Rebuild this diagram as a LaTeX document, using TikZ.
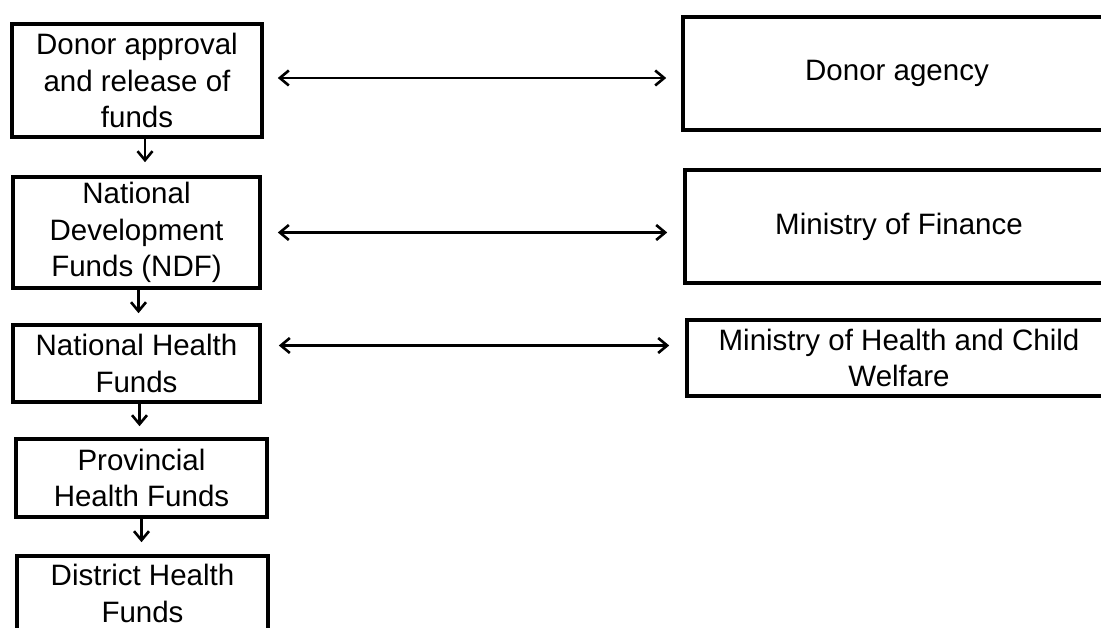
\documentclass[tikz,border=0pt]{standalone}
\usepackage{fontspec}
\setmainfont{Liberation Sans}
\usetikzlibrary{arrows.meta}
\begin{document}
\begin{tikzpicture}[x=1pt,y=-1pt,
  fund/.style={draw, line width=3.6pt, align=center, inner sep=0pt,
    font=\fontsize{29.5}{36.5}\selectfont},
  link/.style={line width=2.6pt, {Straight Barb[length=9pt,width=15pt]}-{Straight Barb[length=9pt,width=15pt]}},
  flow/.style={line width=2.6pt, -{Straight Barb[length=9pt,width=15pt]}}]
\useasboundingbox (0,0) rectangle (1101,628);

% funding chain on the left
\node[fund, minimum width=250pt, minimum height=113pt] (b1) at (137,80.5)
  {Donor approval\\and release of\\funds};
\node[fund, minimum width=247pt, minimum height=111pt] (b2) at (136.5,232.5)
  {National\\Development\\Funds (NDF)};
\node[fund, minimum width=247pt, minimum height=77pt] (b3) at (136.5,363.5)
  {National Health\\Funds};
\node[fund, minimum width=251pt, minimum height=78pt] (b4) at (141.5,478)
  {Provincial\\Health Funds};
\node[fund, minimum width=251pt, minimum height=75pt] (b5) at (142.5,593.5)
  {District Health\\Funds};

% responsible bodies on the right
\node[fund, minimum width=428pt, minimum height=113pt] (ra) at (897,73.5)
  {Donor agency};
\node[fund, minimum width=428pt, minimum height=113pt] (rb) at (899,226.5)
  {Ministry of Finance};
\node[fund, minimum width=424pt, minimum height=76pt] (rc) at (899,358)
  {Ministry of Health and Child\\Welfare};

% downward flow of funds
\draw[flow, shorten >=13pt] ([xshift=8pt]b1.south) -- ([xshift=8pt]b1.south |- b2.north);
\draw[flow, shorten >=10pt] ([xshift=2pt]b2.south) -- ([xshift=2pt]b2.south |- b3.north);
\draw[flow, shorten >=11pt] ([xshift=3pt]b3.south) -- ([xshift=3pt]b3.south |- b4.north);
\draw[flow, shorten >=12pt] (b4.south) -- (b4.south |- b5.north);

% two-way links
\draw[link, shorten <=14pt, shorten >=15pt] ([yshift=2.5pt]b1.east) -- ([yshift=2.5pt]b1.east -| ra.west);
\draw[link, shorten <=16pt, shorten >=16pt] (b2.east) -- (b2.east -| rb.west);
\draw[link, shorten <=17pt, shorten >=16pt] ([yshift=18pt]b3.east) -- ([yshift=18pt]b3.east -| rc.west);
\end{tikzpicture}
\end{document}
